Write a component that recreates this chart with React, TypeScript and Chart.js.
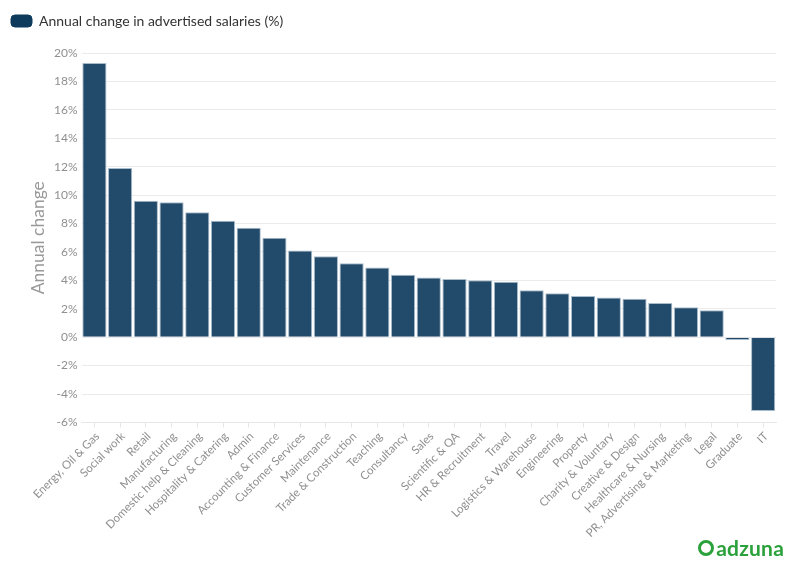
import React, { useEffect, useRef } from "react";
import { Chart, registerables } from "chart.js";

Chart.register(...registerables);

const categories: string[] = [
  "Energy, Oil & Gas",
  "Social work",
  "Retail",
  "Manufacturing",
  "Domestic help & Cleaning",
  "Hospitality & Catering",
  "Admin",
  "Accounting & Finance",
  "Customer Services",
  "Maintenance",
  "Trade & Construction",
  "Teaching",
  "Consultancy",
  "Sales",
  "Scientific & QA",
  "HR & Recruitment",
  "Travel",
  "Logistics & Warehouse",
  "Engineering",
  "Property",
  "Charity & Voluntary",
  "Creative & Design",
  "Healthcare & Nursing",
  "PR, Advertising & Marketing",
  "Legal",
  "Graduate",
  "IT",
];

const annualChange: number[] = [
  19.3, 11.9, 9.6, 9.5, 8.8, 8.2, 7.7, 7.0, 6.1, 5.7, 5.2, 4.9, 4.4, 4.2, 4.1,
  4.0, 3.9, 3.3, 3.1, 2.9, 2.8, 2.7, 2.4, 2.1, 1.9, -0.2, -5.2,
];

const seriesLabel = "Annual change in advertised salaries (%)";
const yTitle = "Annual change";
const yMin = -6;
const yMax = 20;
const yStep = 2;

const legendSpacer = {
  id: "legendSpacer",
  beforeInit(chart: any) {
    const legend = chart.legend;
    if (!legend) return;
    const origFit = legend.fit;
    legend.fit = function () {
      origFit.call(this);
      this.height += 15;
    };
  },
};

export default function App() {
  const canvasRef = useRef<HTMLCanvasElement | null>(null);

  useEffect(() => {
    if (!canvasRef.current) return;
    const chart = new Chart(canvasRef.current, {
      type: "bar",
      data: {
        labels: categories,
        datasets: [
          {
            label: seriesLabel,
            data: annualChange,
            backgroundColor: "#224a6a",
            borderColor: "#a9bccb",
            borderWidth: 1,
            barPercentage: 0.94,
            categoryPercentage: 1,
          },
        ],
      },
      plugins: [legendSpacer],
      options: {
        animation: false,
        responsive: false,
        maintainAspectRatio: false,
        layout: { padding: { left: 1, right: 20, top: 4, bottom: 33 } },
        plugins: {
          legend: {
            display: true,
            position: "top",
            align: "start",
            labels: {
              boxWidth: 21,
              boxHeight: 12,
              useBorderRadius: true,
              borderRadius: 4,
              color: "#333333",
              font: { family: "Lato", size: 14 },
              padding: 10,
              generateLabels: (c: any) => {
                const items = Chart.defaults.plugins.legend.labels.generateLabels(c);
                return items.map((it: any) => ({
                  ...it,
                  fillStyle: "#0e3a5c",
                  strokeStyle: "#0e3a5c",
                }));
              },
            },
          },
          tooltip: { enabled: false },
        },
        scales: {
          x: {
            type: "category",
            offset: true,
            grid: {
              display: true,
              drawOnChartArea: false,
              drawTicks: true,
              tickLength: 5,
              offset: false,
              color: "#e6e6e6",
            },
            border: { display: true, color: "#e6e6e6" },
            ticks: {
              autoSkip: false,
              maxRotation: 45,
              minRotation: 45,
              color: "#8f8f8f",
              font: { family: "Lato", size: 11.5 },
              padding: 2,
              labelOffset: 3,
            },
          },
          y: {
            min: yMin,
            max: yMax,
            grid: { color: "#ebebeb", drawTicks: false },
            border: { display: false },
            ticks: {
              stepSize: yStep,
              color: "#8f8f8f",
              font: { family: "Lato", size: 12 },
              padding: 4,
              callback: (v: any) => `${v}%`,
            },
            title: {
              display: true,
              text: yTitle,
              color: "#999999",
              font: { family: "Lato", size: 17.5 },
              padding: { top: 27, bottom: 1 },
            },
          },
        },
      },
    });
    return () => chart.destroy();
  }, []);

  return (
    <div
      style={{
        position: "absolute",
        left: 0,
        top: 0,
        width: 796,
        height: 575,
        background: "#ffffff",
        fontFamily: "Lato, sans-serif",
      }}
    >
      <canvas ref={canvasRef} width={796} height={575} style={{ width: 796, height: 575 }} />
      <div
        style={{
          position: "absolute",
          right: 12,
          bottom: 16,
          display: "flex",
          alignItems: "center",
          color: "#2ba13c",
          fontWeight: 700,
          fontSize: 21,
          lineHeight: "22px",
          letterSpacing: 0.2,
        }}
      >
        <span
          style={{
            display: "inline-block",
            width: 10,
            height: 10,
            border: "3.5px solid #2ba13c",
            borderRadius: "50%",
            marginRight: 2,
          }}
        />
        <span>adzuna</span>
      </div>
    </div>
  );
}
